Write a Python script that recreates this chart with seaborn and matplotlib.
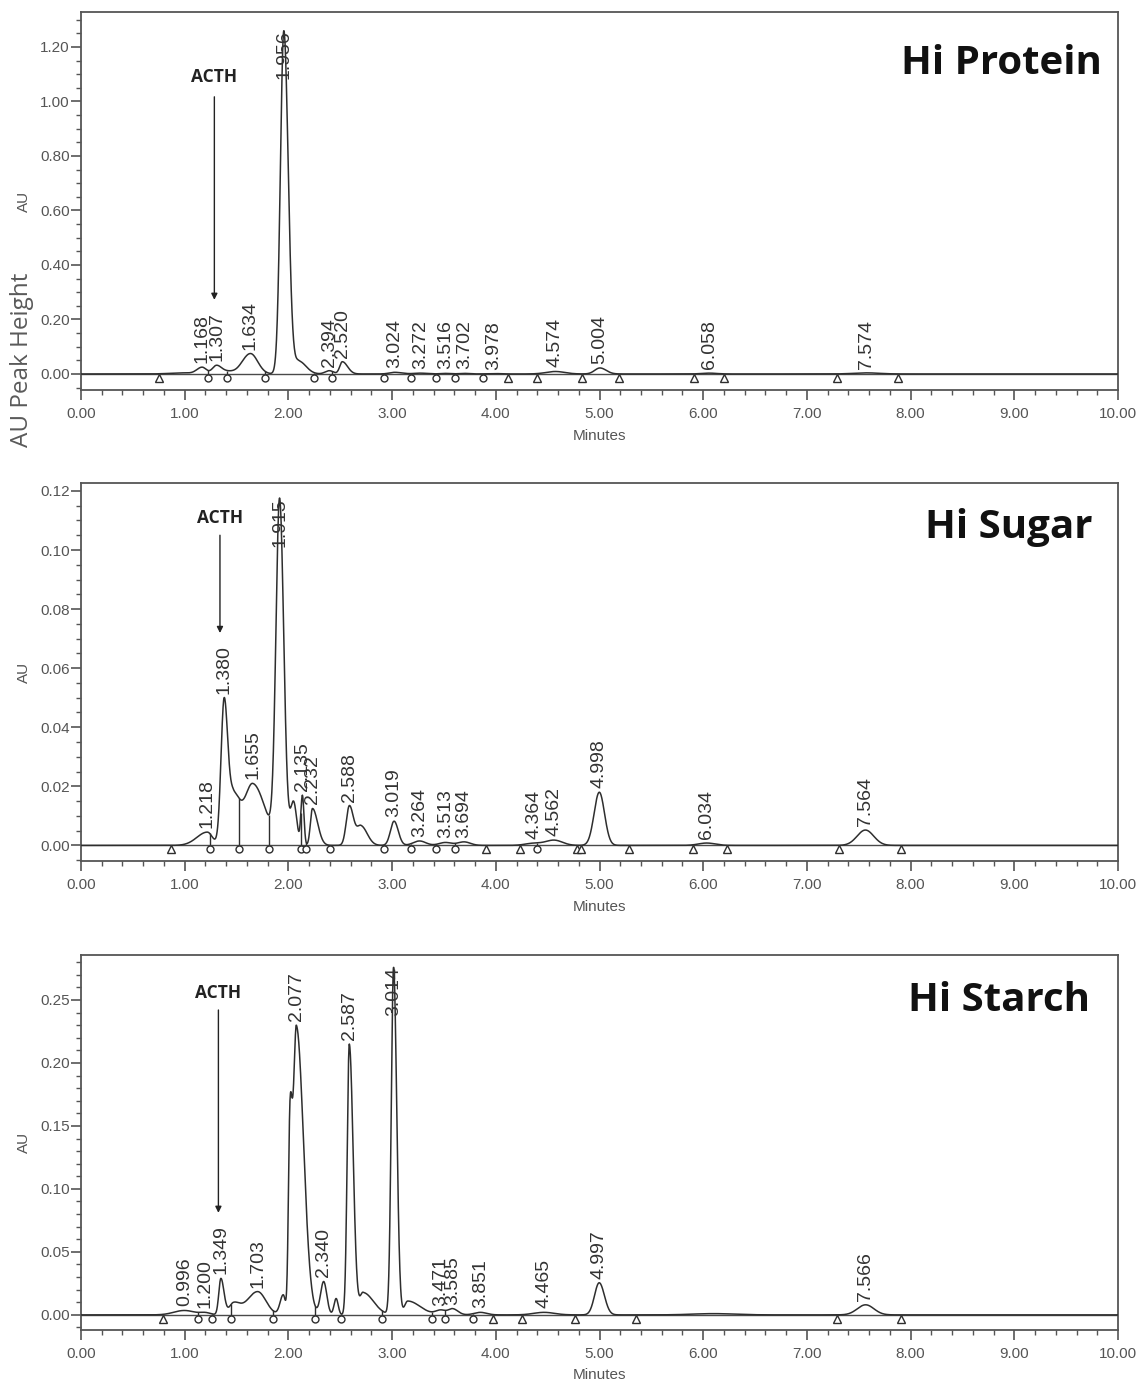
import numpy as np
import matplotlib
matplotlib.use('Agg')
import matplotlib.pyplot as plt
from matplotlib.ticker import MultipleLocator, FormatStrFormatter
from matplotlib.transforms import offset_copy
import seaborn as sns

# ========== PEAK TABLES ==========
# Hi Protein
protein_rt = [1.168, 1.307, 1.634, 1.956, 2.394, 2.520, 3.024, 3.272, 3.516, 3.702, 3.978, 4.574, 5.004, 6.058, 7.574]
protein_au = [0.025, 0.032, 0.075, 1.26, 0.012, 0.045, 0.006, 0.003, 0.002, 0.002, 0.0015, 0.009, 0.022, 0.003, 0.004]
protein_sl = [0.05, 0.04, 0.08, 0.033, 0.04, 0.025, 0.05, 0.06, 0.05, 0.05, 0.06, 0.09, 0.05, 0.07, 0.12]
protein_sr = [0.04, 0.05, 0.07, 0.042, 0.04, 0.05, 0.07, 0.06, 0.05, 0.05, 0.06, 0.09, 0.06, 0.07, 0.12]
# unlabelled shoulders / tails
protein_ex_rt = [0.98, 1.42, 2.10]
protein_ex_au = [0.004, 0.012, 0.05]
protein_ex_sl = [0.12, 0.05, 0.04]
protein_ex_sr = [0.10, 0.05, 0.07]
protein_start_end = [0.755, 4.12, 4.40, 4.83, 5.19, 5.91, 6.20, 7.29, 7.88]
protein_drops = [1.22, 1.41, 1.77, 2.25, 2.42, 2.92, 3.18, 3.42, 3.61, 3.88]

# Hi Sugar
sugar_rt = [1.218, 1.380, 1.655, 1.915, 2.135, 2.232, 2.588, 3.019, 3.264, 3.513, 3.694, 4.364, 4.562, 4.998, 6.034, 7.564]
sugar_au = [0.0045, 0.050, 0.021, 0.1176, 0.017, 0.0125, 0.0135, 0.0082, 0.0015, 0.001, 0.0012, 0.0008, 0.0018, 0.018, 0.0008, 0.0052]
sugar_sl = [0.10, 0.03, 0.08, 0.035, 0.015, 0.02, 0.03, 0.035, 0.06, 0.06, 0.06, 0.08, 0.08, 0.05, 0.08, 0.08]
sugar_sr = [0.05, 0.035, 0.12, 0.04, 0.015, 0.05, 0.04, 0.04, 0.06, 0.06, 0.06, 0.08, 0.08, 0.05, 0.08, 0.08]
sugar_ex_rt = [1.47, 2.05, 2.70]
sugar_ex_au = [0.019, 0.015, 0.0068]
sugar_ex_sl = [0.04, 0.03, 0.04]
sugar_ex_sr = [0.06, 0.03, 0.06]
sugar_start_end = [0.87, 3.91, 4.23, 4.78, 4.82, 5.28, 5.90, 6.23, 7.31, 7.91]
sugar_drops = [1.24, 1.52, 1.81, 2.12, 2.17, 2.40, 2.92, 3.18, 3.42, 3.61, 4.40]

# Hi Starch
starch_rt = [0.996, 1.200, 1.349, 1.703, 2.077, 2.340, 2.587, 3.014, 3.471, 3.585, 3.851, 4.465, 4.997, 7.566]
starch_au = [0.0035, 0.002, 0.029, 0.0185, 0.230, 0.0265, 0.215, 0.276, 0.004, 0.005, 0.002, 0.002, 0.0255, 0.008]
starch_sl = [0.10, 0.05, 0.02, 0.10, 0.03, 0.03, 0.02, 0.022, 0.05, 0.04, 0.06, 0.10, 0.045, 0.08]
starch_sr = [0.10, 0.05, 0.03, 0.08, 0.068, 0.03, 0.037, 0.03, 0.05, 0.05, 0.06, 0.10, 0.05, 0.08]
starch_ex_rt = [1.47, 1.95, 2.015, 2.46, 2.72, 3.15, 6.10]
starch_ex_au = [0.010, 0.016, 0.17, 0.013, 0.018, 0.011, 0.001]
starch_ex_sl = [0.04, 0.03, 0.015, 0.02, 0.03, 0.03, 0.2]
starch_ex_sr = [0.06, 0.02, 0.02, 0.02, 0.10, 0.12, 0.2]
starch_start_end = [0.79, 3.97, 4.25, 4.76, 5.35, 7.29, 7.91]
starch_drops = [1.13, 1.26, 1.45, 1.85, 2.26, 2.51, 2.90, 3.38, 3.51, 3.78]

titles = ['Hi Protein', 'Hi Sugar', 'Hi Starch']
acth_x = [1.286, 1.34, 1.325]
acth_text_y = [1.088, 0.111, 0.2556]
acth_arrow_from = [1.017, 0.105, 0.242]
acth_arrow_to = [0.272, 0.0719, 0.081]


def peak_shape(t, c, sl, sr):
    s = np.where(t < c, sl, sr)
    return np.exp(-0.5 * ((t - c) / s) ** 2)


def build_trace(t, centres, heights, sig_l, sig_r):
    # amplitudes chosen so the summed trace passes through the read heights
    M = np.array([[peak_shape(ci, cj, lj, rj) for cj, lj, rj in zip(centres, sig_l, sig_r)]
                  for ci in centres])
    amp = np.clip(np.linalg.solve(M, heights), 0, None)
    y = np.zeros_like(t)
    for a, cj, lj, rj in zip(amp, centres, sig_l, sig_r):
        y += a * peak_shape(t, cj, lj, rj)
    return y


panels = [
    dict(rt=protein_rt, au=protein_au, sl=protein_sl, sr=protein_sr,
         ex_rt=protein_ex_rt, ex_au=protein_ex_au, ex_sl=protein_ex_sl, ex_sr=protein_ex_sr,
         tri=protein_start_end, drops=protein_drops,
         ylim=(-0.059, 1.328), major=0.2, minor=0.05, ymax_tick=1.2,
         rect=[0.0708, 0.7188, 0.9065, 0.2725], title_xy=(0.984, 0.836)),
    dict(rt=sugar_rt, au=sugar_au, sl=sugar_sl, sr=sugar_sr,
         ex_rt=sugar_ex_rt, ex_au=sugar_ex_au, ex_sl=sugar_ex_sl, ex_sr=sugar_ex_sr,
         tri=sugar_start_end, drops=sugar_drops,
         ylim=(-0.0053, 0.1227), major=0.02, minor=0.005, ymax_tick=0.12,
         rect=[0.0708, 0.3792, 0.9065, 0.2726], title_xy=(0.975, 0.854)),
    dict(rt=starch_rt, au=starch_au, sl=starch_sl, sr=starch_sr,
         ex_rt=starch_ex_rt, ex_au=starch_ex_au, ex_sl=starch_ex_sl, ex_sr=starch_ex_sr,
         tri=starch_start_end, drops=starch_drops,
         ylim=(-0.012, 0.2857), major=0.05, minor=0.01, ymax_tick=0.25,
         rect=[0.0708, 0.0411, 0.9065, 0.2704], title_xy=(0.973, 0.851)),
]

sns.set_theme(style='ticks')
plt.rcParams['font.family'] = ['Liberation Sans', 'DejaVu Sans']

fig = plt.figure(figsize=(11.44, 13.87), dpi=100)
t = np.linspace(0, 10, 4001)
line_c = '#2e2e2e'
grey = '#4a4a4a'

for i, p in enumerate(panels):
    ax = fig.add_axes(p['rect'])
    centres = list(p['rt']) + list(p['ex_rt'])
    heights = list(p['au']) + list(p['ex_au'])
    sig_l = list(p['sl']) + list(p['ex_sl'])
    sig_r = list(p['sr']) + list(p['ex_sr'])
    trace = build_trace(t, centres, heights, sig_l, sig_r)

    ax.axhline(0, color=grey, lw=1.0, zorder=1)
    sns.lineplot(x=t, y=trace, ax=ax, color=line_c, lw=1.1, estimator=None, zorder=3)

    # valley drop lines and integration marks
    drops = np.array(p['drops'])
    ax.vlines(drops, 0, np.interp(drops, t, trace), color=line_c, lw=1.0, zorder=3)
    below = offset_copy(ax.transData, fig=fig, y=-4, units='dots')
    ax.plot(p['tri'], np.zeros(len(p['tri'])), ls='none', marker='^', ms=6,
            mfc='white', mec=line_c, mew=1.0, transform=below, zorder=4, clip_on=False)
    ax.plot(drops, np.zeros(len(drops)), ls='none', marker='o', ms=5,
            mfc='white', mec=line_c, mew=1.0, transform=below, zorder=4, clip_on=False)

    # retention time labels
    above = offset_copy(ax.transData, fig=fig, y=4, units='dots')
    for rt, h in zip(p['rt'], p['au']):
        if h > 0.85 * p['ylim'][1]:
            ax.text(rt, h, f'{rt:.3f}', rotation=90, ha='center', va='top',
                    fontsize=14, color='#333333', zorder=5)
        else:
            ax.text(rt, h, f'{rt:.3f}', rotation=90, ha='center', va='bottom',
                    fontsize=14, color='#333333', transform=above, zorder=5)

    # ACTH arrow
    ax.annotate('', xy=(acth_x[i], acth_arrow_to[i]), xytext=(acth_x[i], acth_arrow_from[i]),
                arrowprops=dict(arrowstyle='-|>', color='#222222', lw=1.0,
                                mutation_scale=9, shrinkA=0, shrinkB=0))
    ax.text(acth_x[i], acth_text_y[i], 'ACTH', ha='center', va='center',
            fontsize=12.5, fontweight='bold', family=['Open Sans', 'DejaVu Sans'], color='#222222')

    ax.text(p['title_xy'][0], p['title_xy'][1], titles[i], transform=ax.transAxes,
            ha='right', va='baseline', fontsize=29, fontweight='bold',
            family=['Open Sans', 'DejaVu Sans'], color='#111111')

    # axes styling
    ax.set_xlim(0, 10)
    ax.set_ylim(*p['ylim'])
    ax.xaxis.set_major_locator(MultipleLocator(1))
    ax.xaxis.set_minor_locator(MultipleLocator(0.2))
    ax.set_yticks(np.arange(0, p['ymax_tick'] + 1e-9, p['major']))
    ax.yaxis.set_minor_locator(MultipleLocator(p['minor']))
    ax.xaxis.set_major_formatter(FormatStrFormatter('%.2f'))
    ax.yaxis.set_major_formatter(FormatStrFormatter('%.2f'))
    ax.tick_params(axis='both', which='major', length=7, width=1.2, color='#555555',
                   labelsize=11, labelcolor='#555555', direction='out')
    ax.tick_params(axis='both', which='minor', length=3.5, width=1.0, color='#555555', direction='out')
    ax.tick_params(axis='x', which='major', pad=5)
    ax.tick_params(axis='y', which='major', pad=1)
    for s in ax.spines.values():
        s.set_color('#555555')
        s.set_linewidth(1.3)
    ax.set_xlabel('Minutes', fontsize=11, color='#555555')
    ax.set_ylabel('AU', fontsize=11, color='#555555')
    ax.xaxis.set_label_coords(0.5, -0.102)
    ax.yaxis.set_label_coords(-0.048, 0.5)

fig.text(0.0192, 0.7404, 'AU Peak Height', rotation=90, ha='center', va='center',
         fontsize=17.5, color='#5a5a5a', family=['Open Sans', 'DejaVu Sans'])

fig.savefig('out.png', dpi=100)
